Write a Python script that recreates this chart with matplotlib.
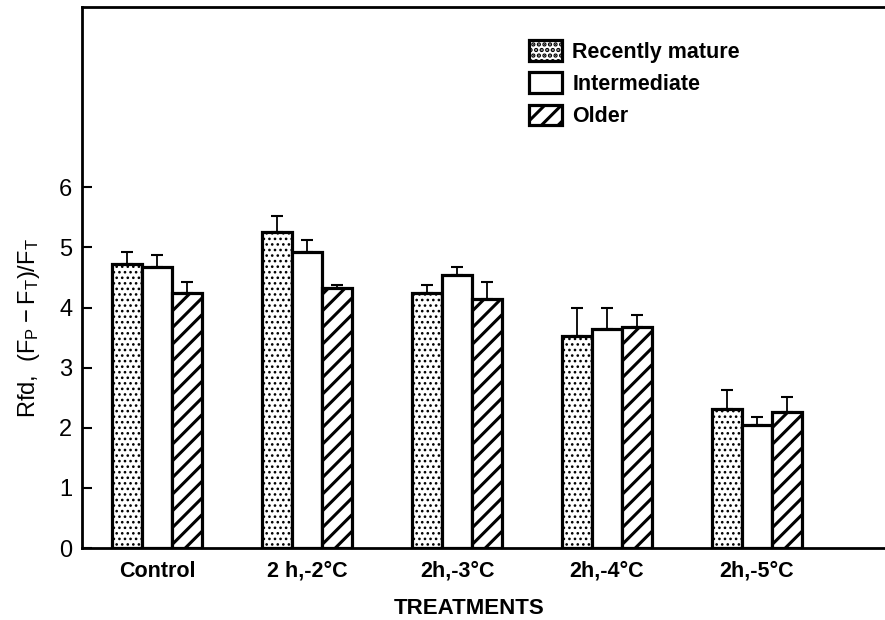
import numpy as np
import matplotlib
matplotlib.use("Agg")
import matplotlib.pyplot as plt

plt.rcParams['font.family'] = ['Liberation Sans', 'DejaVu Sans']

treatments = ["Control", "2 h,-2°C", "2h,-3°C", "2h,-4°C", "2h,-5°C"]
series = ["Recently mature", "Intermediate", "Older"]
recent = [4.72, 5.25, 4.25, 3.53, 2.32]
recent_err = [0.21, 0.27, 0.13, 0.47, 0.31]
inter = [4.67, 4.93, 4.55, 3.65, 2.05]
inter_err = [0.21, 0.20, 0.12, 0.35, 0.13]
older = [4.25, 4.32, 4.15, 3.67, 2.27]
older_err = [0.17, 0.05, 0.28, 0.20, 0.25]

fig = plt.figure(figsize=(8.85, 6.2), dpi=100)
ax = fig.add_axes([0.0927, 0.116, 0.9073, 0.8727])

x = np.arange(len(treatments))
w = 0.2
hatches = ["...", "", "//"]
hatch_lw = [1.1, 1.0, 2.2]
vals = [recent, inter, older]
errs = [recent_err, inter_err, older_err]
for i in range(3):
    plt.rcParams['hatch.linewidth'] = hatch_lw[i]
    ax.bar(x + (i - 1) * w, vals[i], w, color="white", edgecolor="black",
           linewidth=2.3, hatch=hatches[i], label=series[i], zorder=2)
    ax.errorbar(x + (i - 1) * w, vals[i],
                yerr=[np.zeros(len(x)), errs[i]], fmt="none",
                ecolor="black", elinewidth=1.3, capsize=4, capthick=1.5, zorder=1)

ax.set_xlim(-0.5, 4.853)
ax.set_ylim(0, 9.0)
ax.set_yticks(range(7))
ax.set_xticks(x)
ax.set_xticklabels(treatments, fontsize=15.5, fontweight="bold")
ax.tick_params(axis="y", direction="in", length=7, width=1.5, labelsize=17, pad=7)
ax.tick_params(axis="x", length=0, pad=9)
for s in ["left", "bottom", "top"]:
    ax.spines[s].set_linewidth(2)
ax.spines["right"].set_visible(False)

ax.set_xlabel("TREATMENTS", fontsize=16, fontweight="bold", labelpad=12)
ax.xaxis.set_label_coords(0.482, -0.092)
ax.set_ylabel(r"Rfd,  $\mathregular{(F_P - F_T)/F_T}$", fontsize=17)
ax.yaxis.set_label_coords(-0.05, 0.407)

leg = ax.legend(loc="upper left", bbox_to_anchor=(0.533, 0.975), frameon=False,
                prop={"size": 15.5, "weight": "bold"}, handlelength=1.5,
                handleheight=1.1, labelspacing=0.45, handletextpad=0.5)

fig.savefig("out.png", dpi=100)
